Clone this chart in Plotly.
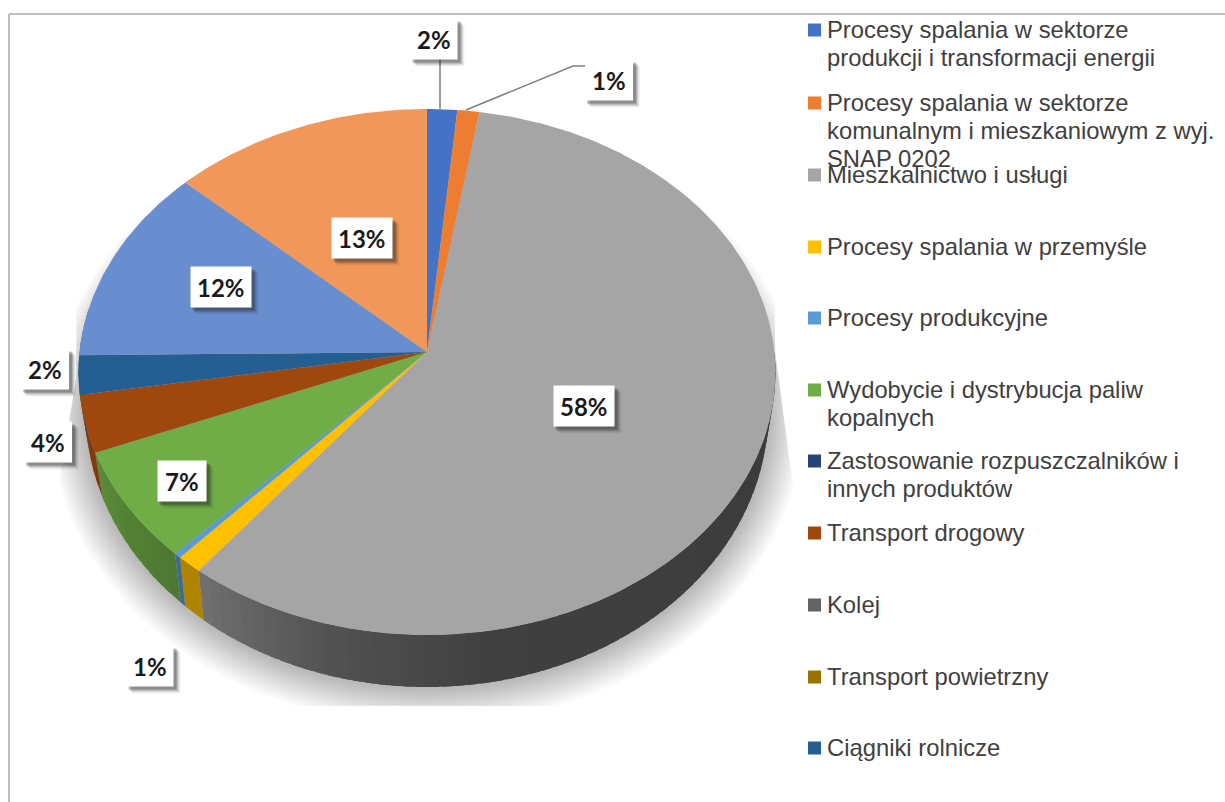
import numpy as np
import plotly.graph_objects as go

# ---- data ----
categories = [
    "Procesy spalania w sektorze produkcji i transformacji energii",
    "Procesy spalania w sektorze komunalnym i mieszkaniowym z wyj. SNAP 0202",
    "Mieszkalnictwo i usługi",
    "Procesy spalania w przemyśle",
    "Procesy produkcyjne",
    "Wydobycie i dystrybucja paliw kopalnych",
    "Zastosowanie rozpuszczalników i innych produktów",
    "Transport drogowy",
    "Kolej",
    "Transport powietrzny",
    "Ciągniki rolnicze",
    "",
    "",
]
values = [1.5, 1.1, 58.0, 1.1, 0.3, 6.9, 0.0, 3.5, 0.0, 0.0, 2.4, 12.15, 13.05]
colors = ["#4472c4", "#ed7d31", "#a5a5a5", "#ffc000", "#5b9bd5", "#70ad47", "#264478",
          "#9e480e", "#636363", "#997300", "#255e91", "#698ed0", "#f1975a"]
legend_lines = [
    ["Procesy spalania w sektorze", "produkcji i transformacji energii"],
    ["Procesy spalania w sektorze", "komunalnym i mieszkaniowym z wyj.", "SNAP 0202"],
    ["Mieszkalnictwo i usługi"],
    ["Procesy spalania w przemyśle"],
    ["Procesy produkcyjne"],
    ["Wydobycie i dystrybucja paliw", "kopalnych"],
    ["Zastosowanie rozpuszczalników i", "innych produktów"],
    ["Transport drogowy"],
    ["Kolej"],
    ["Transport powietrzny"],
    ["Ciągniki rolnicze"],
]

# ---- layout constants (screen units of the full-page axes) ----
CX, CY = 427.0, 352.0
S, C, K = 347.5, 0.7525, 0.076
F, G, D = 0.979, 1.044, 39.6
legend_y = [30, 103, 175, 247, 318, 390, 461, 533, 605, 677, 748]
LINE_H = 28
label_pos = {0: (434, 39), 1: (609, 80), 2: (584, 406), 3: (150, 666), 5: (182, 481),
             7: (48, 442), 10: (45, 369), 11: (221, 287), 12: (362, 238)}
label_w = {0: 47, 1: 48, 2: 61, 3: 47, 5: 49, 7: 48, 10: 48, 11: 61, 12: 61}
LABEL_H = 41


def top(t):
    u, v = np.sin(t), np.cos(t)
    w = 1 + K * v
    return CX + S * u / w, CY - S * C * v / w


def bottom(t):
    u, v = np.sin(t), np.cos(t)
    w = 1 + K * v
    return CX + F * S * u / w, CY - (G * S * C * v / w - D)


def shade(hex_color, f):
    r, g, b = [int(hex_color[i:i + 2], 16) for i in (1, 3, 5)]
    return f"rgb({int(r * f)},{int(g * f)},{int(b * f)})"


fig = go.Figure()


def poly(x, y, color):
    fig.add_trace(go.Scatter(x=np.round(x, 2), y=np.round(y, 2), mode="lines", fill="toself",
                             fillcolor=color, line=dict(width=0), hoverinfo="skip",
                             showlegend=False))


# soft shadow below the disc
tt = np.linspace(0, 2 * np.pi, 361)
for m in np.arange(36, 0, -2.0):
    bx, by = bottom(tt)
    sx = CX + (bx - CX) * (1 + m / 345)
    sy = (CY + 15) + (by - (CY + 15)) * (1 + m / 300)
    sy = np.minimum(sy, 706)
    left = np.where(sy > 380, 76 - (sy - 380) * 0.17, 76)
    right = np.where(sy > 350, 775 + (sy - 350) * 0.135, 775)
    sx = np.clip(sx, left, right)
    poly(sx, sy, "rgba(0,0,0,0.016)")

# side wall of the disc
edges = np.concatenate([[0], np.cumsum(values)]) / sum(values) * 2 * np.pi
wall_deg = [90, 170, 195, 218, 225, 250, 280]
wall_f = [0.36, 0.39, 0.50, 0.68, 0.70, 0.82, 0.90]
overlap = np.radians(1.5)
for i, col in enumerate(colors):
    a, b = edges[i], edges[i + 1]
    lo, hi = max(a, np.radians(90)), min(b, np.radians(280))
    if hi <= lo:
        continue
    n = max(1, int(np.degrees(hi - lo) / 2))
    steps = np.linspace(lo, hi, n + 1)
    for s0, s1 in zip(steps[:-1], steps[1:]):
        seg = np.linspace(s0, min(s1 + overlap, hi), 5)
        tx, ty = top(seg)
        ux, uy = bottom(seg)
        f = np.interp(np.degrees((s0 + s1) / 2), wall_deg, wall_f)
        poly(np.r_[tx, ux[::-1]], np.r_[ty, uy[::-1]], shade(col, f))

# top face slices
for i, col in enumerate(colors):
    if values[i] <= 0:
        continue
    seg = np.linspace(edges[i], edges[i + 1], max(3, int(values[i] * 6)))
    ax, ay = top(seg)
    poly(np.r_[CX, ax, CX], np.r_[CY, ay, CY], col)

# leader lines
for lx, ly in (([440, 440], [59, 109]), ([466, 573, 585], [110, 66, 66])):
    fig.add_trace(go.Scatter(x=lx, y=ly, mode="lines", line=dict(color="#7f7f7f", width=1.5),
                             hoverinfo="skip", showlegend=False))

# legend swatches
fig.add_trace(go.Scatter(x=[814.5] * len(legend_y), y=legend_y, mode="markers",
                         marker=dict(symbol="square", size=13, color=colors[:len(legend_y)]),
                         hoverinfo="skip", showlegend=False))

annotations = []
for y0, lines in zip(legend_y, legend_lines):
    for j, line in enumerate(lines):
        annotations.append(dict(x=825, y=y0 - 1 + j * LINE_H, text=line, xanchor="left", yanchor="middle",
                                showarrow=False,
                                font=dict(family="Liberation Sans", size=23.8, color="#404040")))

shapes = [
    dict(type="line", x0=9, x1=1225, y0=14, y1=14, line=dict(color="#bfbfbf", width=2)),
    dict(type="line", x0=9, x1=9, y0=14, y1=802, line=dict(color="#bfbfbf", width=2)),
]
for i, (lx, ly) in label_pos.items():
    w = label_w[i]
    for off, alpha in ((7, 0.05), (6, 0.08), (5, 0.12), (4, 0.18), (3, 0.25)):
        shapes.append(dict(type="rect", x0=lx - w / 2 + off - 1, x1=lx + w / 2 + off,
                           y0=ly - LABEL_H / 2 + off, y1=ly + LABEL_H / 2 + off,
                           fillcolor=f"rgba(40,40,40,{alpha})", line=dict(width=0), layer="above"))
    shapes.append(dict(type="rect", x0=lx - w / 2, x1=lx + w / 2, y0=ly - LABEL_H / 2, y1=ly + LABEL_H / 2,
                       fillcolor="white", line=dict(width=0), layer="above"))
    annotations.append(dict(x=lx, y=ly, text=f"<b>{values[i]:.0f}%</b>", showarrow=False,
                            font=dict(family="Lato", size=24, color="#1a1a1a")))

fig.update_layout(
    width=1225, height=802, margin=dict(l=0, r=0, t=0, b=0),
    paper_bgcolor="white", plot_bgcolor="white", showlegend=False,
    xaxis=dict(range=[0, 1225], visible=False, fixedrange=True),
    yaxis=dict(range=[802, 0], visible=False, fixedrange=True),
    shapes=shapes, annotations=annotations,
)
fig.write_html("out.html", config={"displayModeBar": False},
               post_script="document.body.style.margin='0';document.body.style.overflow='hidden';")
